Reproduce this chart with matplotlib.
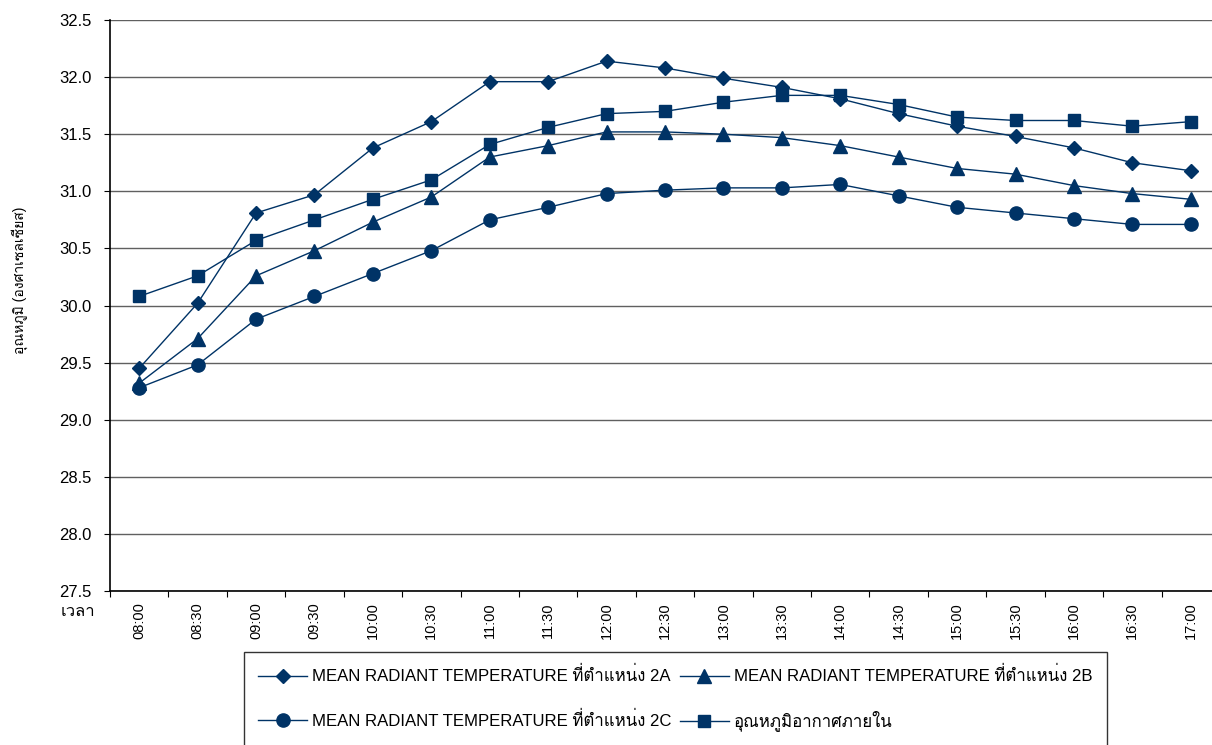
import matplotlib
matplotlib.use("Agg")
import matplotlib.pyplot as plt
from matplotlib import font_manager
from matplotlib.ft2font import FT2Font

# half-hourly readings, 08:00 - 17:00
times = ["08:00", "08:30", "09:00", "09:30", "10:00", "10:30", "11:00",
         "11:30", "12:00", "12:30", "13:00", "13:30", "14:00", "14:30",
         "15:00", "15:30", "16:00", "16:30", "17:00"]

mrt_2a = [29.45, 30.02, 30.81, 30.97, 31.38, 31.61, 31.96, 31.96, 32.14, 32.08,
          31.99, 31.91, 31.81, 31.68, 31.57, 31.48, 31.38, 31.25, 31.18]
mrt_2b = [29.32, 29.71, 30.26, 30.48, 30.73, 30.95, 31.30, 31.40, 31.52, 31.52,
          31.50, 31.47, 31.40, 31.30, 31.20, 31.15, 31.05, 30.98, 30.93]
mrt_2c = [29.28, 29.48, 29.88, 30.08, 30.28, 30.48, 30.75, 30.86, 30.98, 31.01,
          31.03, 31.03, 31.06, 30.96, 30.86, 30.81, 30.76, 30.71, 30.71]
air_temp = [30.08, 30.26, 30.57, 30.75, 30.93, 31.10, 31.41, 31.56, 31.68, 31.70,
            31.78, 31.84, 31.84, 31.76, 31.65, 31.62, 31.62, 31.57, 31.61]

labels = ["MEAN RADIANT TEMPERATURE ที่ตำแหน่ง 2A",
          "MEAN RADIANT TEMPERATURE ที่ตำแหน่ง 2B",
          "MEAN RADIANT TEMPERATURE ที่ตำแหน่ง 2C",
          "อุณหภูมิอากาศภายใน"]


def find_thai_family():
    """First installed family that has Thai glyphs, or None"""
    for f in font_manager.fontManager.ttflist:
        try:
            if 0x0E01 in FT2Font(f.fname).get_charmap():
                return f.name
        except Exception:
            continue
    return None


families = ["Liberation Sans"]
thai = find_thai_family()
if thai:
    families.append(thai)
families.append("DejaVu Sans")
plt.rcParams["font.family"] = families

navy = "#003366"

fig = plt.figure(figsize=(12.12, 7.45), dpi=100)
ax = fig.add_axes([110 / 1212, 1 - 591 / 745, 1110 / 1212, 571 / 745])

x = list(range(len(times)))
l_2a, = ax.plot(x, mrt_2a, color=navy, lw=1.0, marker="D", ms=7, label=labels[0], zorder=3)
l_2b, = ax.plot(x, mrt_2b, color=navy, lw=1.0, marker="^", ms=10, label=labels[1], zorder=3)
l_2c, = ax.plot(x, mrt_2c, color=navy, lw=1.0, marker="o", ms=9.5, label=labels[2], zorder=3)
l_air, = ax.plot(x, air_temp, color=navy, lw=1.0, marker="s", ms=9, label=labels[3], zorder=3)

ax.set_ylim(27.5, 32.5)
ax.set_xlim(-0.5, len(times) - 0.5)
yticks = [27.5 + 0.5 * i for i in range(11)]
ax.set_yticks(yticks)
ax.set_yticklabels([f"{v:.1f}" for v in yticks], fontsize=12)
ax.yaxis.grid(True, color="#606060", lw=1.0)
ax.set_axisbelow(True)

# ticks sit between categories, labels at the centres
ax.set_xticks([i - 0.5 for i in range(len(times) + 1)])
ax.set_xticklabels([])
ax.set_xticks(x, minor=True)
ax.set_xticklabels(times, minor=True, rotation=90, fontsize=10.5)
ax.tick_params(axis="x", which="major", length=4, direction="out")
ax.tick_params(axis="x", which="minor", length=0, pad=8)
ax.tick_params(axis="y", length=4, direction="out", pad=9)

for side in ["top", "right"]:
    ax.spines[side].set_visible(False)
for side in ["left", "bottom"]:
    ax.spines[side].set_color("black")
    ax.spines[side].set_linewidth(1.2)

fig.text(20 / 1212, 1 - 280 / 745, "อุณหภูมิ (องศาเซลเซียส)", rotation=90,
         ha="center", va="center", fontsize=10)
fig.text(78 / 1212, 1 - 612 / 745, "เวลา", ha="center", va="center", fontsize=12)

# two columns, filled column by column: 2A / 2C on the left, 2B / air on the right
leg = fig.legend([l_2a, l_2c, l_2b, l_air],
                 [labels[0], labels[2], labels[1], labels[3]],
                 loc="upper left", bbox_to_anchor=(244 / 1212, 1 - 652 / 745),
                 ncol=2, fontsize=12.1, frameon=True, fancybox=False,
                 edgecolor="black", handlelength=2.9, handletextpad=0.3,
                 columnspacing=0.5, labelspacing=1.55, borderpad=0.85,
                 borderaxespad=0)
leg.get_frame().set_linewidth(1.0)

fig.savefig("out.png", dpi=100)
